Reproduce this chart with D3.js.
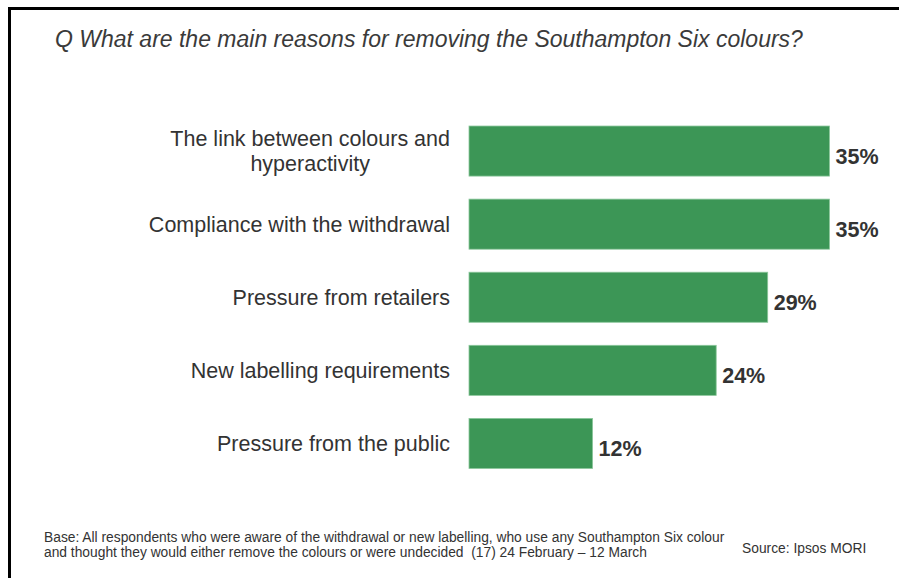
<!DOCTYPE html>
<html>
<head>
<meta charset="utf-8">
<script src="https://cdn.jsdelivr.net/npm/d3@7"></script>
<style>
  body { margin: 0; background: #fff; }
  text { font-family: "Liberation Sans", Arial, sans-serif; }
</style>
</head>
<body>
<div id="chart"></div>
<script>
	var width = 899,
		height = 578;

	//Data
	var categories = [
		["The link between colours and", "hyperactivity"],
		["Compliance with the withdrawal"],
		["Pressure from retailers"],
		["New labelling requirements"],
		["Pressure from the public"]
	];
	var values = [35, 35, 29, 24, 12];
	var valueLabels = ["35%", "35%", "29%", "24%", "12%"];

	var title = "Q What are the main reasons for removing the Southampton Six colours?";
	var baseNote = [
		"Base: All respondents who were aware of the withdrawal or new labelling, who use any Southampton Six colour",
		"and thought they would either remove the colours or were undecided  (17) 24 February \u2013 12 March"
	];
	var sourceNote = "Source: Ipsos MORI";

	var green = "#3c9656",
		textgrey = "#333333";

	var svg = d3.select("#chart").append("svg")
		.attr("width", width)
		.attr("height", height);

	//Frame - top and left lines only
	svg.append("line")
		.attr("x1", 8).attr("x2", 899)
		.attr("y1", 8.5).attr("y2", 8.5)
		.style("stroke", "#000").style("stroke-width", 3);
	svg.append("line")
		.attr("x1", 9.5).attr("x2", 9.5)
		.attr("y1", 7).attr("y2", height)
		.style("stroke", "#000").style("stroke-width", 3);

	svg.append("text")
		.attr("x", 55)
		.attr("y", 47)
		.style("font-size", "23px")
		.style("font-style", "italic")
		.style("fill", "#3a3a3a")
		.text(title);

	///////////////////////////////////////////////////////////////////////////
	//////////////////////////////// Scales ///////////////////////////////////
	///////////////////////////////////////////////////////////////////////////

	var x0 = 469;
	var xScale = d3.scaleLinear()
		.domain([0, 35])
		.range([x0, 829.5]);

	var yScale = d3.scaleBand()
		.domain(d3.range(values.length))
		.range([103, 491.5])
		.padding(0.315);

	///////////////////////////////////////////////////////////////////////////
	///////////////////////////////// Bars ////////////////////////////////////
	///////////////////////////////////////////////////////////////////////////

	var bar = svg.selectAll(".bar")
		.data(values)
		.enter().append("g")
		.attr("class", "bar");

	bar.append("rect")
		.attr("x", x0)
		.attr("y", function(d,i) { return yScale(i); })
		.attr("width", function(d) { return xScale(d) - x0; })
		.attr("height", yScale.bandwidth())
		.style("fill", green)
		.style("stroke", "#8cc79c")
		.style("stroke-width", 0.8);

	bar.append("text")
		.attr("x", function(d) { return xScale(d) + 6; })
		.attr("y", function(d,i) { return yScale(i) + yScale.bandwidth()/2 + 12.5; })
		.style("font-size", "21.5px")
		.style("font-weight", "bold")
		.style("fill", textgrey)
		.text(function(d,i) { return valueLabels[i]; });

	//Category labels - multi line ones centred on their widest line
	var labelRight = 450;
	var lineH = 25;
	categories.forEach(function(lines, i) {
		var g = svg.append("g");
		var cy = yScale(i) + yScale.bandwidth()/2;
		var y0 = cy - (lines.length - 1) * lineH / 2;
		var texts = lines.map(function(t, j) {
			return g.append("text")
				.attr("y", y0 + j * lineH)
				.attr("dy", "0.35em")
				.style("font-size", "21.5px")
				.style("fill", textgrey)
				.text(t);
		});
		var maxW = d3.max(texts, function(t) { return t.node().getComputedTextLength(); });
		texts.forEach(function(t) {
			t.attr("x", labelRight - maxW/2).style("text-anchor", "middle");
		});
	});

	///////////////////////////////////////////////////////////////////////////
	//////////////////////////////// Footer ///////////////////////////////////
	///////////////////////////////////////////////////////////////////////////

	svg.selectAll(".base-note")
		.data(baseNote)
		.enter().append("text")
		.attr("class", "base-note")
		.attr("x", 44)
		.attr("y", function(d,i) { return 542 + i * 15; })
		.style("font-size", "13.8px")
		.style("white-space", "pre")
		.style("fill", textgrey)
		.text(function(d) { return d; });

	svg.append("text")
		.attr("x", 742)
		.attr("y", 553)
		.style("font-size", "13.8px")
		.style("fill", textgrey)
		.text(sourceNote);
</script>
</body>
</html>
